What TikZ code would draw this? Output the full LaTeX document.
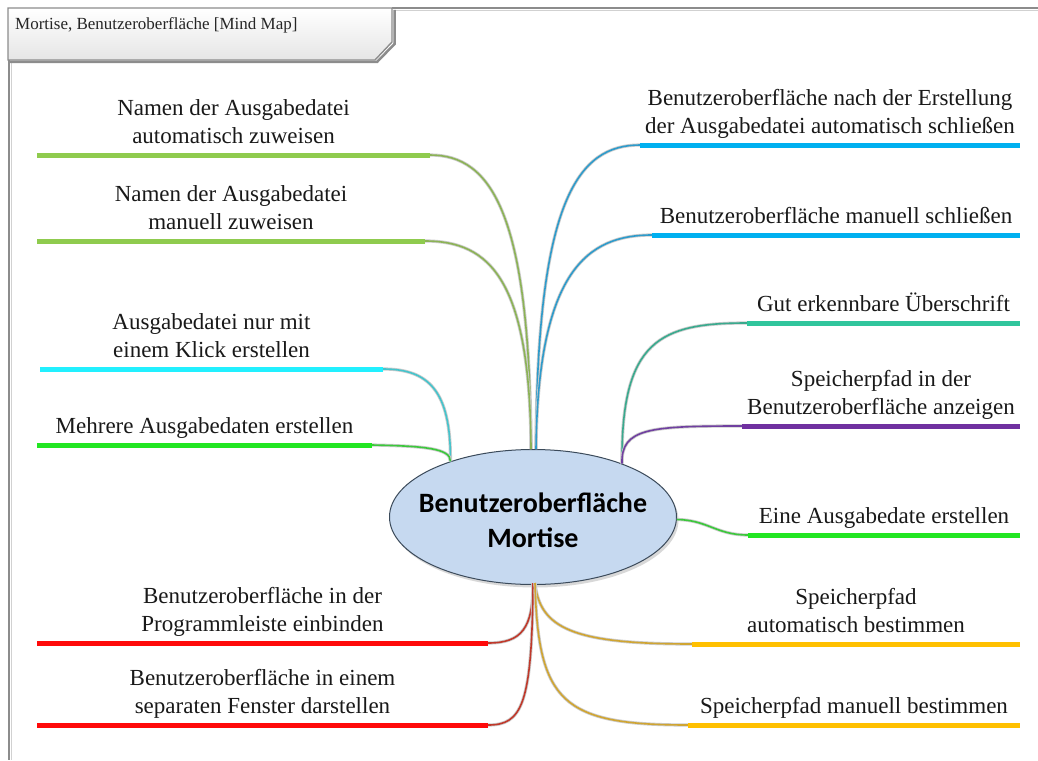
\documentclass[tikz,border=0pt]{standalone}
\usepackage{fontspec}
\setmainfont{Liberation Serif}
\newfontfamily\rootfont{Carlito}
\usetikzlibrary{shapes.geometric,shadows,calc}

% branch colours: bar colour / connector colour
\definecolor{lgreen}{HTML}{8FCB4E}   \definecolor{lgreenC}{HTML}{8CB356}
\definecolor{bblue}{HTML}{00B0F0}    \definecolor{bblueC}{HTML}{2E9BCB}
\definecolor{bcyan}{HTML}{22F0FF}    \definecolor{bcyanC}{HTML}{45C4CC}
\definecolor{bgreen}{HTML}{22E622}   \definecolor{bgreenC}{HTML}{3CC83C}
\definecolor{bred}{HTML}{FF0A0A}     \definecolor{bredC}{HTML}{C0392B}
\definecolor{bteal}{HTML}{30C59C}    \definecolor{btealC}{HTML}{3AAA8E}
\definecolor{bpurple}{HTML}{7030A0}  \definecolor{bpurpleC}{HTML}{7040A0}
\definecolor{bgold}{HTML}{FFC000}    \definecolor{bgoldC}{HTML}{D0A532}
\definecolor{rootfill}{HTML}{C6D9F0}
\definecolor{rootline}{HTML}{3B4A5A}
\definecolor{framegray}{HTML}{8C8C8C}

\tikzset{
  label/.style={anchor=south, inner sep=0pt, align=center, text=black!90,
    font=\fontsize{23}{28}\selectfont},
  barshadow/.style={line width=5pt, draw=black!35, shift={(1.5,1.8)}},
  bar/.style={line width=5pt, draw=#1},
  link/.style={line width=1.6pt, draw=#1,
    preaction={draw=black!20, line width=3.2pt}},
}

\begin{document}
\begin{tikzpicture}[x=1pt,y=-1pt]
\useasboundingbox (0,0) rectangle (1038,760);
\fill[white] (0,0) rectangle (1038,760);

% frame with title tab
\draw[framegray, line width=1.4pt] (392,8) -- (1038,8);
\draw[black!18, line width=1.4pt] (394,10.5) -- (1038,10.5);
\draw[framegray, line width=1.4pt] (9,60) -- (9,760);
\draw[black!18, line width=1.4pt] (11.5,62) -- (11.5,760);
\draw[black!45, line width=2.5pt] (394.5,10) -- (394.5,44) -- (377,62) -- (10,62);
\shade[top color=white, bottom color=black!10]
  (8,8) -- (392,8) -- (392,42) -- (375,60) -- (8,60) -- cycle;
\draw[framegray, line width=1.4pt]
  (8,8) -- (392,8) -- (392,42) -- (375,60) -- (8,60) -- cycle;
\node[anchor=west, inner sep=0pt, font=\fontsize{17}{20}\selectfont, text=black!85]
  (title) at (15,25) {Mortise, Benutzeroberfläche [Mind Map]};

% central topic: fixed-size ellipse with its caption on top
\node[ellipse, minimum width=287pt, minimum height=135pt, inner sep=0pt,
  fill=rootfill, draw=rootline, line width=1pt,
  drop shadow={shadow xshift=2pt, shadow yshift=-3pt, opacity=.3}]
  (root) at (533,517) {};
\node[font=\rootfont\bfseries\fontsize{28}{35}\selectfont, align=center, inner sep=0pt]
  (rootlabel) at ([yshift=-3pt]root.center) {Benutzeroberfläche\\Mortise};

% bar end points: (xNi) inner end, (xNo) outer end
\coordinate (l1i) at (430,155); \coordinate (l1o) at (37,155);
\coordinate (l2i) at (425,241); \coordinate (l2o) at (37,241);
\coordinate (l3i) at (383,369); \coordinate (l3o) at (40,369);
\coordinate (l4i) at (372,445); \coordinate (l4o) at (37,445);
\coordinate (l5i) at (488,643); \coordinate (l5o) at (37,643);
\coordinate (l6i) at (488,725); \coordinate (l6o) at (37,725);
\coordinate (r1i) at (640,145); \coordinate (r1o) at (1020,145);
\coordinate (r2i) at (652,235); \coordinate (r2o) at (1020,235);
\coordinate (r3i) at (747,323); \coordinate (r3o) at (1020,323);
\coordinate (r4i) at (742,426); \coordinate (r4o) at (1020,426);
\coordinate (r5i) at (748,535); \coordinate (r5o) at (1020,535);
\coordinate (r6i) at (692,644); \coordinate (r6o) at (1020,644);
\coordinate (r7i) at (688,725); \coordinate (r7o) at (1020,725);

% attachment points on the central ellipse
\coordinate (topL) at ([xshift=-2pt]root.north);
\coordinate (topR) at ([xshift=3pt]root.north);
\coordinate (ulft) at (root.146);
\coordinate (urgt) at (root.31);
\coordinate (rgt)  at (root.-1);
\coordinate (botL) at ([yshift=2pt]root.south);
\coordinate (botR) at ([xshift=2pt,yshift=2pt]root.south);

% connectors from the central topic to the bars
\draw[link=lgreenC]  (l1i) .. controls (492,155) and (530,215) .. (topL);
\draw[link=lgreenC]  (l2i) .. controls (490,241) and (530,280) .. (topL);
\draw[link=bcyanC]   (l3i) .. controls (428,369) and (451,390) .. (ulft);
\draw[link=bgreenC]  (l4i) .. controls (422,446) and (451,448) .. (ulft);
\draw[link=bredC]    (botL) .. controls (533,628) and (522,643) .. (l5i);
\draw[link=bredC]    (botL) .. controls (532,705) and (522,725) .. (l6i);
\draw[link=bblueC]   (r1i) .. controls (578,145) and (537,200) .. (topR);
\draw[link=bblueC]   (r2i) .. controls (588,235) and (538,270) .. (topR);
\draw[link=btealC]   (r3i) .. controls (660,323) and (621,340) .. (urgt);
\draw[link=bpurpleC] (r4i) .. controls (650,426) and (621,428) .. (urgt);
\draw[link=bgreenC]  (rgt) .. controls (708,520) and (716,535) .. (r5i);
\draw[link=bgoldC]   (botR) .. controls (540,628) and (572,644) .. (r6i);
\draw[link=bgoldC]   (botR) .. controls (538,702) and (562,725) .. (r7i);

% branch bars
\foreach \a/\b/\c in {l1i/l1o/lgreen, l2i/l2o/lgreen, l3i/l3o/bcyan,
    l4i/l4o/bgreen, l5i/l5o/bred, l6i/l6o/bred, r1i/r1o/bblue, r2i/r2o/bblue,
    r3i/r3o/bteal, r4i/r4o/bpurple, r5i/r5o/bgreen, r6i/r6o/bgold, r7i/r7o/bgold}{
  \draw[barshadow] (\a) -- (\b);
  \draw[bar=\c] (\a) -- (\b);
}

% branch labels, centred above their bars
\node[label] (t1)  at ($(l1i)!.5!(l1o)+(0,-3)$) {Namen der Ausgabedatei\\automatisch zuweisen\strut};
\node[label] (t2)  at ($(l2i)!.5!(l2o)+(0,-3)$) {Namen der Ausgabedatei\\manuell zuweisen\strut};
\node[label] (t3)  at ($(l3i)!.5!(l3o)+(0,-3)$) {Ausgabedatei nur mit\\einem Klick erstellen\strut};
\node[label] (t4)  at ($(l4i)!.5!(l4o)+(0,-3)$) {Mehrere Ausgabedaten erstellen\strut};
\node[label] (t5)  at ($(l5i)!.5!(l5o)+(0,-3)$) {Benutzeroberfläche in der\\Programmleiste einbinden\strut};
\node[label] (t6)  at ($(l6i)!.5!(l6o)+(0,-3)$) {Benutzeroberfläche in einem\\separaten Fenster darstellen\strut};
\node[label] (t7)  at ($(r1i)!.5!(r1o)+(0,-3)$) {Benutzeroberfläche nach der Erstellung\\der Ausgabedatei automatisch schließen\strut};
\node[label] (t8)  at ($(r2i)!.5!(r2o)+(0,-3)$) {Benutzeroberfläche manuell schließen\strut};
\node[label] (t9)  at ($(r3i)!.5!(r3o)+(0,-3)$) {Gut erkennbare Überschrift\strut};
\node[label] (t10) at ($(r4i)!.5!(r4o)+(0,-3)$) {Speicherpfad in der\\Benutzeroberfläche anzeigen\strut};
\node[label] (t11) at ($(r5i)!.5!(r5o)+(0,-3)$) {Eine Ausgabedate erstellen\strut};
\node[label] (t12) at ($(r6i)!.5!(r6o)+(0,-3)$) {Speicherpfad\\automatisch bestimmen\strut};
\node[label] (t13) at ($(r7i)!.5!(r7o)+(0,-3)$) {Speicherpfad manuell bestimmen\strut};
\end{tikzpicture}
\end{document}
